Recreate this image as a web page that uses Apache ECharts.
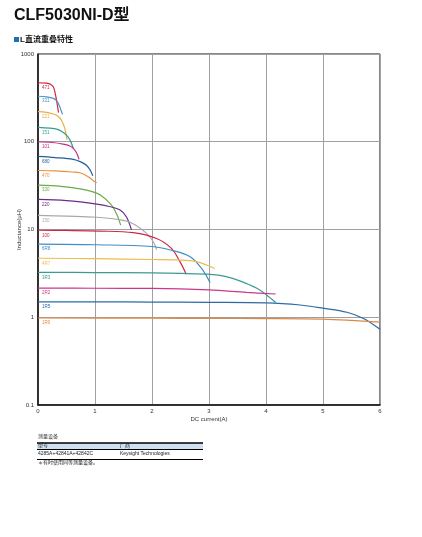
<!DOCTYPE html>
<html><head><meta charset="utf-8">
<script src="https://cdn.jsdelivr.net/npm/echarts@6/dist/echarts.min.js"></script>
<style>html,body{margin:0;padding:0;background:#fff}#c{width:422px;height:537px}</style>
</head><body><div id="c"></div>
<script>
var xTicks = [0,1,2,3,4,5,6];
var yTicks = [0.1,1,10,100,1000];
var names = ['471','331','221','151','101','680','470','330','220','150','100','6R8','4R7','3R3','2R2','1R5','1R0'];
var colors = ['#d1263f','#4f93c9','#eaae45','#2f9d8c','#c82a80','#1f5d9c','#e8913d','#6aab4a','#6b2b87','#a9a9a9','#c92a43','#3f8cc9','#ecbd4e','#3c9c8d','#c93889','#2c6aa6','#d98a48'];
var s471 = [[0,470],[0.15,466],[0.22,452],[0.27,420],[0.3,360],[0.33,285],[0.36,215]];
var s331 = [[0,330],[0.15,325],[0.27,312],[0.33,292],[0.37,262],[0.4,232],[0.43,205]];
var s221 = [[0,220],[0.15,216],[0.27,207],[0.35,195],[0.41,177],[0.47,142],[0.51,105]];
var s151 = [[0,146],[0.2,143],[0.33,139],[0.42,131],[0.5,119],[0.56,105],[0.62,84]];
var s101 = [[0,100],[0.25,98],[0.44,94],[0.55,90],[0.62,84],[0.68,74],[0.72,63]];
var s680 = [[0,68],[0.3,66],[0.62,63],[0.75,59],[0.85,54],[0.92,47],[0.96,41]];
var s470 = [[0,47],[0.3,46.5],[0.6,45.2],[0.75,44],[0.88,40],[0.96,36.5],[1.03,34]];
var s330 = [[0,32],[0.4,31],[0.74,29],[0.95,27],[1.1,24.5],[1.29,19],[1.38,15],[1.45,11.2]];
var s220 = [[0,22],[0.5,21.3],[1.03,19.5],[1.25,18.3],[1.44,16.7],[1.55,14],[1.64,9.9]];
var s150 = [[0,14.5],[0.5,14.2],[1.03,13.8],[1.4,13],[1.65,11.8],[1.9,9.1],[2.02,7.3],[2.08,5.9]];
var s100 = [[0,9.8],[0.5,9.75],[1.09,9.6],[1.67,9.2],[2.08,7.9],[2.34,6.1],[2.49,4.3],[2.6,3.1]];
var s6R8 = [[0,6.8],[1,6.7],[2,6.4],[2.34,5.8],[2.67,4.9],[2.87,3.6],[3.02,2.48]];
var s4R7 = [[0,4.7],[1,4.65],[2,4.55],[2.43,4.5],[2.78,4.3],[3.1,3.6]];
var s3R3 = [[0,3.25],[1,3.23],[2,3.2],[2.5,3.16],[3.02,3.08],[3.3,2.9],[3.54,2.6],[3.84,2.14],[4.01,1.79],[4.17,1.47]];
var s2R2 = [[0,2.15],[1,2.14],[2,2.13],[3,2.05],[3.66,1.92],[4.17,1.84]];
var s1R5 = [[0,1.5],[1,1.5],[2,1.49],[3,1.48],[4,1.46],[4.6,1.38],[5,1.27],[5.42,1.14],[5.71,0.97],[6,0.73]];
var s1R0 = [[0,0.98],[2,0.975],[3,0.97],[4,0.965],[5,0.95],[5.5,0.92],[6,0.88]];
var allData = [s471,s331,s221,s151,s101,s680,s470,s330,s220,s150,s100,s6R8,s4R7,s3R3,s2R2,s1R5,s1R0];

var FONT = '"Liberation Sans", Arial, "Noto Sans CJK SC", sans-serif';
var series = allData.map(function(d, i){
  return {
    type:'line', name:names[i], smooth:0.35, symbol:'circle', symbolSize:0, showSymbol:true,
    lineStyle:{color:colors[i], width:1.2}, itemStyle:{color:colors[i]},
    emphasis:{disabled:true}, z: 3,
    data: d.map(function(p, j){
      var o = {value:p};
      if (j === 0) o.label = {show:true, formatter:names[i], position:'right', distance:4, offset:[0,5], color:colors[i], fontSize:4.5, fontFamily:FONT};
      return o;
    })
  };
});

var chart = echarts.init(document.getElementById('c'), null, {renderer:'canvas'});
chart.setOption({
  animation:false,
  backgroundColor:'#fff',
  title:{text:'CLF5030NI-D型', left:14, top:8, padding:0, textStyle:{fontSize:16, fontWeight:'bold', color:'#111', fontFamily:FONT}},
  grid:{left:38, right:42, top:54, bottom:132, containLabel:false, outerBoundsMode:'none', show:true, borderColor:'#111', borderWidth:1, backgroundColor:'transparent'},
  xAxis:{type:'value', min:0, max:6, interval:1,
    name:'DC current(A)', nameLocation:'middle', nameGap:11, nameMoveOverlap:false,
    nameTextStyle:{fontSize:6, color:'#333', fontFamily:FONT},
    axisLine:{show:true, lineStyle:{color:'#111', width:1.5}}, axisTick:{show:false},
    axisLabel:{fontSize:6, color:'#333', margin:3, fontFamily:FONT, formatter:function(v){return xTicks.indexOf(v)>=0?String(v):'';}},
    splitLine:{show:true, lineStyle:{color:'#a0a0a0', width:1}}},
  yAxis:{type:'log', logBase:10, min:yTicks[0], max:yTicks[yTicks.length-1],
    name:'Inductance(μH)', nameLocation:'middle', nameGap:16, nameMoveOverlap:false,
    nameTextStyle:{fontSize:6, color:'#333', fontFamily:FONT},
    axisLine:{show:true, lineStyle:{color:'#111', width:1.5}}, axisTick:{show:false},
    axisLabel:{fontSize:6, color:'#333', margin:4, fontFamily:FONT, formatter:function(v){return String(v);}},
    splitLine:{show:true, lineStyle:{color:'#a0a0a0', width:1}}},
  series: series,
  graphic:[
    {type:'rect', left:14, top:37, shape:{width:5, height:5}, style:{fill:'#1f6fb5'}},
    {type:'text', left:20, top:36, style:{text:'L直流重叠特性', font:'bold 8px '+FONT, fill:'#111'}},
    {type:'text', left:38, top:434, style:{text:'测量设备', font:'5px '+FONT, fill:'#333'}},
    {type:'rect', shape:{x:37, y:443, width:166, height:6}, style:{fill:'#cfe0f1'}},
    {type:'line', shape:{x1:37, y1:443, x2:203, y2:443}, style:{stroke:'#000', lineWidth:1.3}},
    {type:'line', shape:{x1:37, y1:449.5, x2:203, y2:449.5}, style:{stroke:'#000', lineWidth:1}},
    {type:'line', shape:{x1:37, y1:459.5, x2:203, y2:459.5}, style:{stroke:'#000', lineWidth:1}},
    {type:'text', left:38, top:443.5, style:{text:'型号', font:'5px '+FONT, fill:'#222'}},
    {type:'text', left:120, top:443.5, style:{text:'厂商', font:'5px '+FONT, fill:'#222'}},
    {type:'text', left:38, top:451, style:{text:'4285A+42841A+42842C', font:'5px '+FONT, fill:'#222'}},
    {type:'text', left:120, top:451, style:{text:'Keysight Technologies', font:'5px '+FONT, fill:'#222'}},
    {type:'text', left:38, top:460.5, style:{text:'＊有时使用同等测量设备。', font:'5px '+FONT, fill:'#222'}}
  ]
});
</script></body></html>
